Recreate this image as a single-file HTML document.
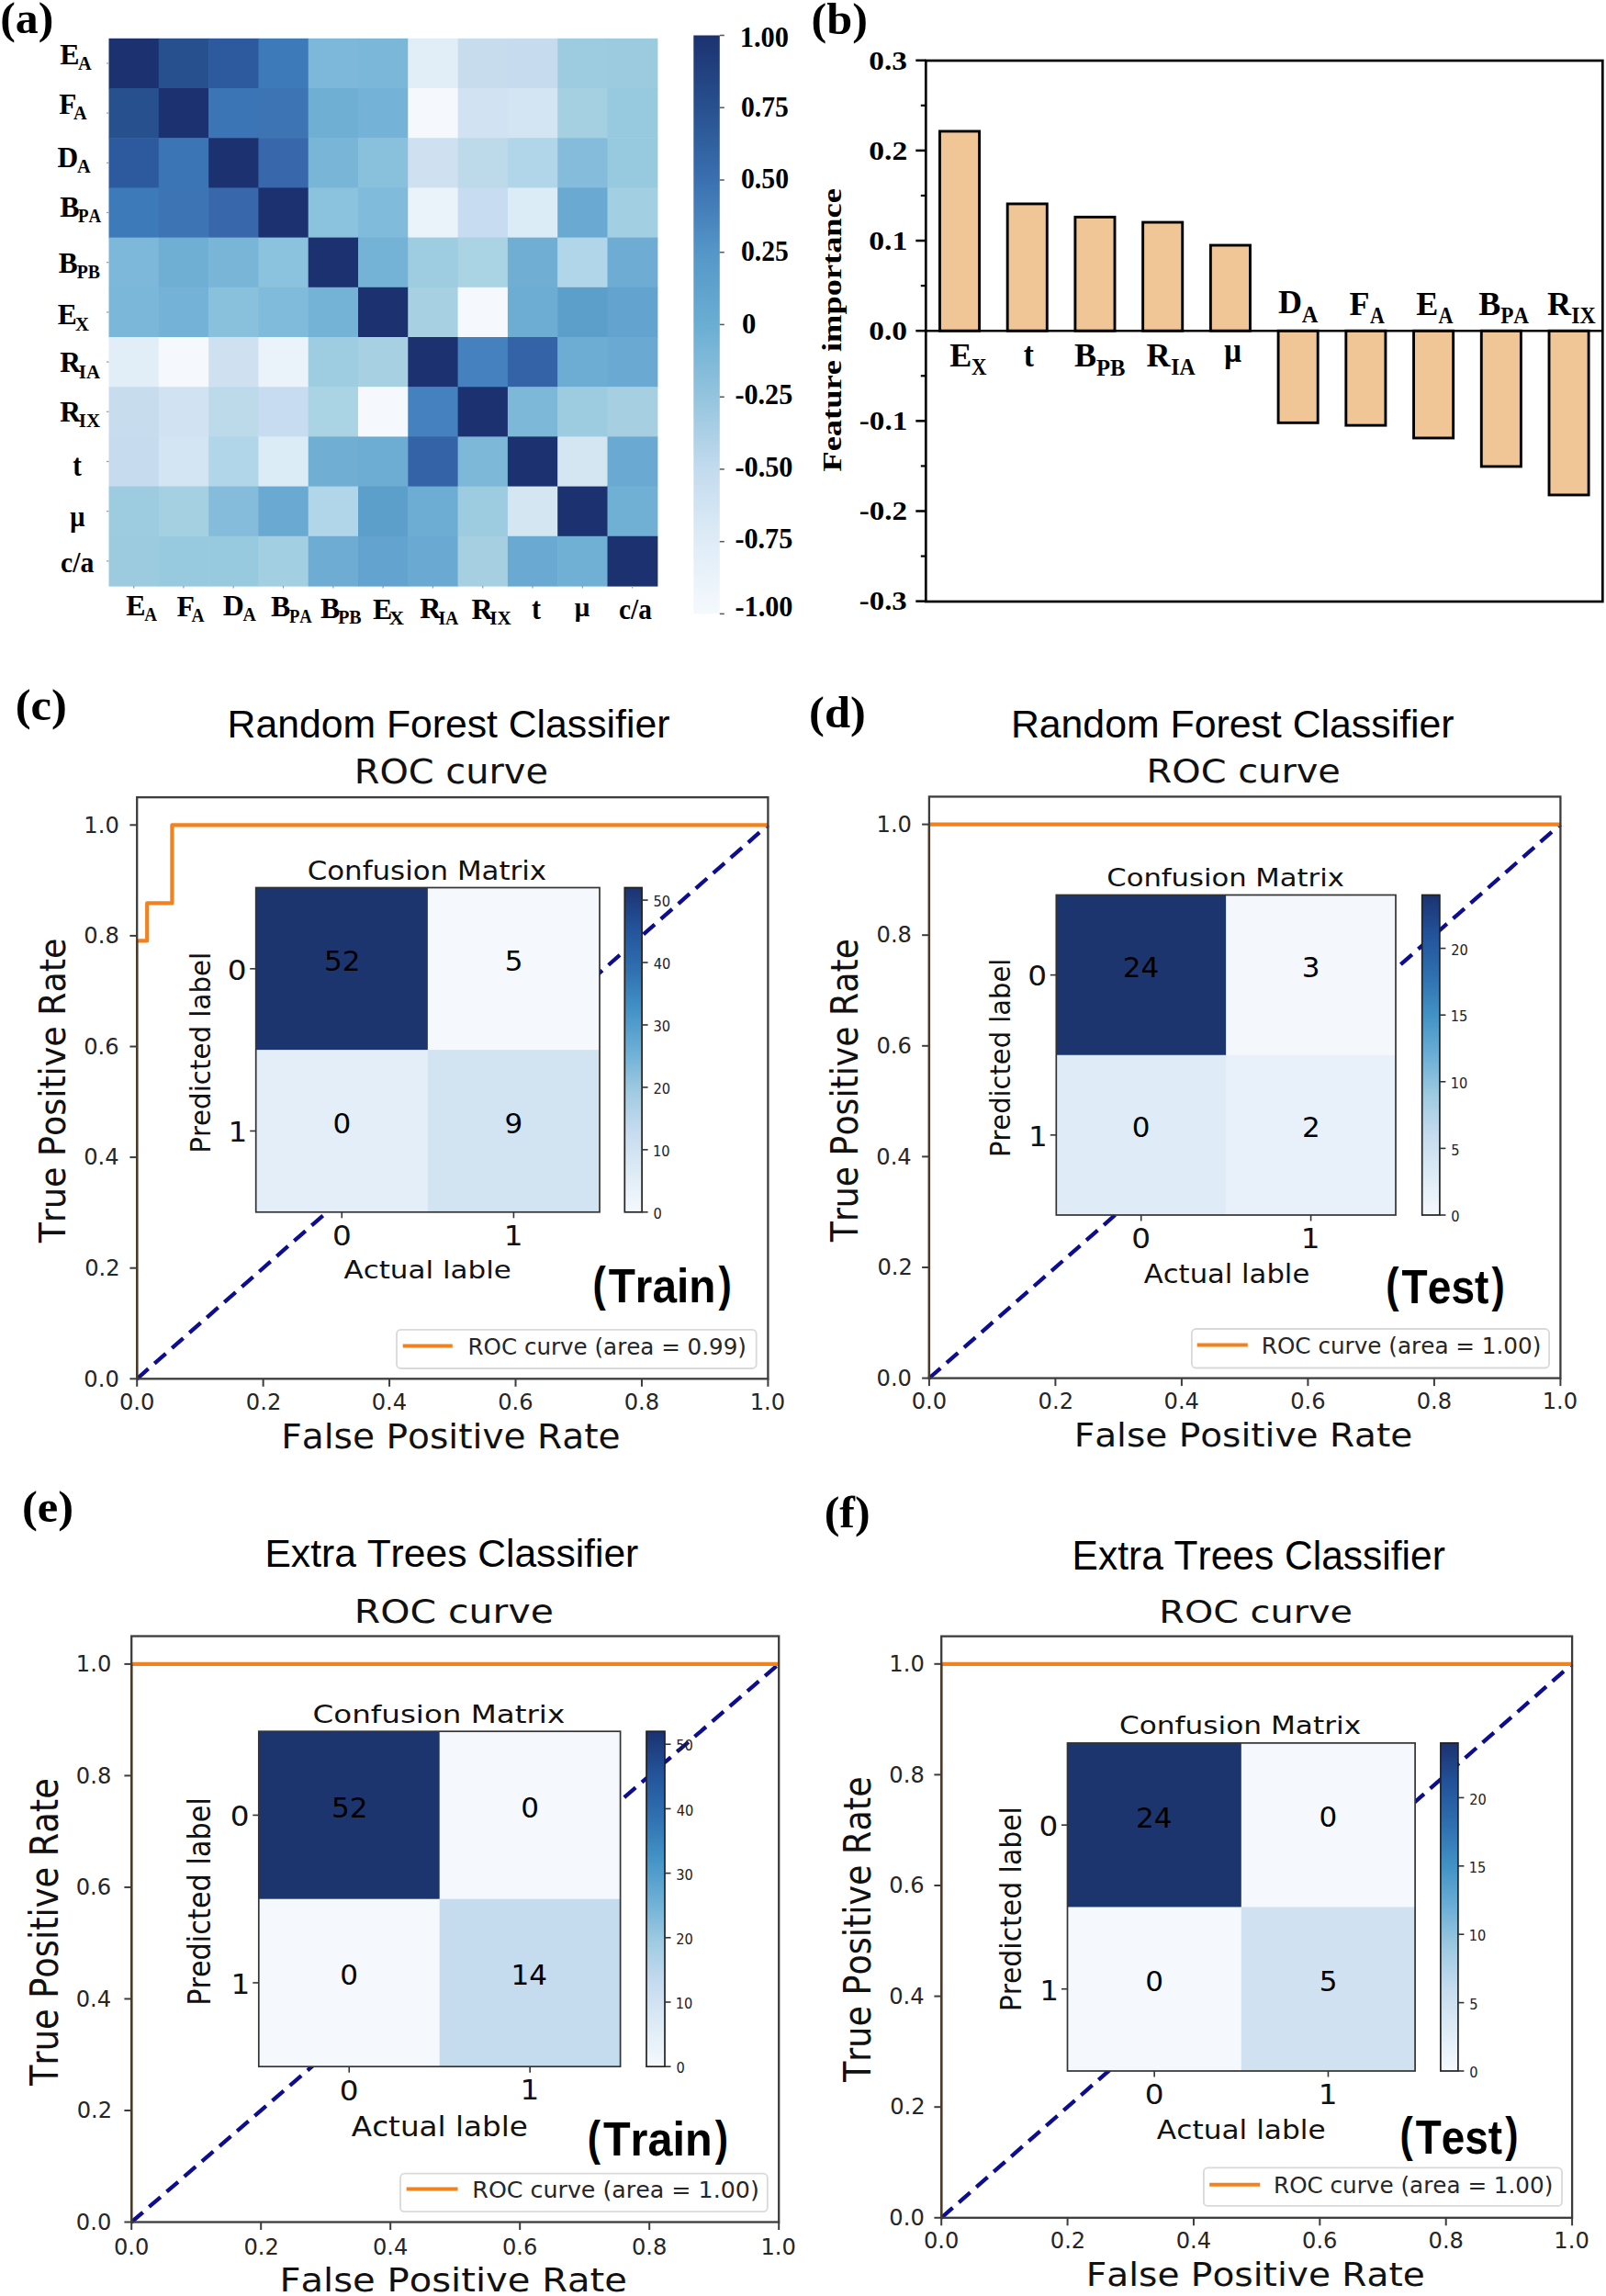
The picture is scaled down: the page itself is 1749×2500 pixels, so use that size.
<!DOCTYPE html>
<html><head><meta charset="utf-8"><title>Figure</title>
<style>html,body{margin:0;padding:0;background:#fff;} svg{display:block;} text{font-kerning:none;}</style>
</head><body>
<svg width="1749" height="2500" viewBox="0 0 1749 2500">
<rect width="1749" height="2500" fill="#fff"/>
<rect x="118.50" y="41.80" width="54.90" height="54.80" fill="#1c3270"/><rect x="172.80" y="41.80" width="54.90" height="54.80" fill="#27508e"/><rect x="227.10" y="41.80" width="54.90" height="54.80" fill="#2d5a9e"/><rect x="281.40" y="41.80" width="54.90" height="54.80" fill="#3d7aba"/><rect x="335.70" y="41.80" width="54.90" height="54.80" fill="#7db7d9"/><rect x="390.00" y="41.80" width="54.90" height="54.80" fill="#7bb7d9"/><rect x="444.30" y="41.80" width="54.90" height="54.80" fill="#e1eef8"/><rect x="498.60" y="41.80" width="54.90" height="54.80" fill="#c7ddee"/><rect x="552.90" y="41.80" width="54.90" height="54.80" fill="#c6dcee"/><rect x="607.20" y="41.80" width="54.90" height="54.80" fill="#9dcbe0"/><rect x="661.50" y="41.80" width="54.90" height="54.80" fill="#9ccbe0"/><rect x="118.50" y="96.00" width="54.90" height="54.80" fill="#27508e"/><rect x="172.80" y="96.00" width="54.90" height="54.80" fill="#1c3270"/><rect x="227.10" y="96.00" width="54.90" height="54.80" fill="#3c75b5"/><rect x="281.40" y="96.00" width="54.90" height="54.80" fill="#3c74b4"/><rect x="335.70" y="96.00" width="54.90" height="54.80" fill="#70afd4"/><rect x="390.00" y="96.00" width="54.90" height="54.80" fill="#74b3d7"/><rect x="444.30" y="96.00" width="54.90" height="54.80" fill="#f5f9fd"/><rect x="498.60" y="96.00" width="54.90" height="54.80" fill="#d1e3f2"/><rect x="552.90" y="96.00" width="54.90" height="54.80" fill="#d3e4f2"/><rect x="607.20" y="96.00" width="54.90" height="54.80" fill="#a5d0e2"/><rect x="661.50" y="96.00" width="54.90" height="54.80" fill="#98cadf"/><rect x="118.50" y="150.20" width="54.90" height="54.80" fill="#2d5a9e"/><rect x="172.80" y="150.20" width="54.90" height="54.80" fill="#3c75b5"/><rect x="227.10" y="150.20" width="54.90" height="54.80" fill="#1c3270"/><rect x="281.40" y="150.20" width="54.90" height="54.80" fill="#3868ab"/><rect x="335.70" y="150.20" width="54.90" height="54.80" fill="#78b5d7"/><rect x="390.00" y="150.20" width="54.90" height="54.80" fill="#89c0dc"/><rect x="444.30" y="150.20" width="54.90" height="54.80" fill="#cfe1f1"/><rect x="498.60" y="150.20" width="54.90" height="54.80" fill="#bddaeb"/><rect x="552.90" y="150.20" width="54.90" height="54.80" fill="#b1d5e9"/><rect x="607.20" y="150.20" width="54.90" height="54.80" fill="#85bcdc"/><rect x="661.50" y="150.20" width="54.90" height="54.80" fill="#98cadf"/><rect x="118.50" y="204.40" width="54.90" height="54.80" fill="#3d7aba"/><rect x="172.80" y="204.40" width="54.90" height="54.80" fill="#3c74b4"/><rect x="227.10" y="204.40" width="54.90" height="54.80" fill="#3868ab"/><rect x="281.40" y="204.40" width="54.90" height="54.80" fill="#1c3270"/><rect x="335.70" y="204.40" width="54.90" height="54.80" fill="#8bc2dd"/><rect x="390.00" y="204.40" width="54.90" height="54.80" fill="#81bbdb"/><rect x="444.30" y="204.40" width="54.90" height="54.80" fill="#eaf2fa"/><rect x="498.60" y="204.40" width="54.90" height="54.80" fill="#c7dcf0"/><rect x="552.90" y="204.40" width="54.90" height="54.80" fill="#dcecf6"/><rect x="607.20" y="204.40" width="54.90" height="54.80" fill="#6aaad2"/><rect x="661.50" y="204.40" width="54.90" height="54.80" fill="#a3cfe2"/><rect x="118.50" y="258.60" width="54.90" height="54.80" fill="#7db7d9"/><rect x="172.80" y="258.60" width="54.90" height="54.80" fill="#70afd4"/><rect x="227.10" y="258.60" width="54.90" height="54.80" fill="#78b5d7"/><rect x="281.40" y="258.60" width="54.90" height="54.80" fill="#8bc2dd"/><rect x="335.70" y="258.60" width="54.90" height="54.80" fill="#1c3270"/><rect x="390.00" y="258.60" width="54.90" height="54.80" fill="#74b2d6"/><rect x="444.30" y="258.60" width="54.90" height="54.80" fill="#9ecce0"/><rect x="498.60" y="258.60" width="54.90" height="54.80" fill="#aad3e4"/><rect x="552.90" y="258.60" width="54.90" height="54.80" fill="#70aed3"/><rect x="607.20" y="258.60" width="54.90" height="54.80" fill="#b2d6e9"/><rect x="661.50" y="258.60" width="54.90" height="54.80" fill="#6eacd3"/><rect x="118.50" y="312.80" width="54.90" height="54.80" fill="#7bb7d9"/><rect x="172.80" y="312.80" width="54.90" height="54.80" fill="#74b3d7"/><rect x="227.10" y="312.80" width="54.90" height="54.80" fill="#89c0dc"/><rect x="281.40" y="312.80" width="54.90" height="54.80" fill="#81bbdb"/><rect x="335.70" y="312.80" width="54.90" height="54.80" fill="#74b2d6"/><rect x="390.00" y="312.80" width="54.90" height="54.80" fill="#1c3270"/><rect x="444.30" y="312.80" width="54.90" height="54.80" fill="#a7d0e2"/><rect x="498.60" y="312.80" width="54.90" height="54.80" fill="#f5f9fd"/><rect x="552.90" y="312.80" width="54.90" height="54.80" fill="#6eadd3"/><rect x="607.20" y="312.80" width="54.90" height="54.80" fill="#5d9fcb"/><rect x="661.50" y="312.80" width="54.90" height="54.80" fill="#62a3cf"/><rect x="118.50" y="367.00" width="54.90" height="54.80" fill="#e1eef8"/><rect x="172.80" y="367.00" width="54.90" height="54.80" fill="#f5f9fd"/><rect x="227.10" y="367.00" width="54.90" height="54.80" fill="#cfe1f1"/><rect x="281.40" y="367.00" width="54.90" height="54.80" fill="#eaf2fa"/><rect x="335.70" y="367.00" width="54.90" height="54.80" fill="#9ecce0"/><rect x="390.00" y="367.00" width="54.90" height="54.80" fill="#a7d0e2"/><rect x="444.30" y="367.00" width="54.90" height="54.80" fill="#1c3270"/><rect x="498.60" y="367.00" width="54.90" height="54.80" fill="#4580bf"/><rect x="552.90" y="367.00" width="54.90" height="54.80" fill="#3563a8"/><rect x="607.20" y="367.00" width="54.90" height="54.80" fill="#6eadd3"/><rect x="661.50" y="367.00" width="54.90" height="54.80" fill="#6aaad2"/><rect x="118.50" y="421.20" width="54.90" height="54.80" fill="#c7ddee"/><rect x="172.80" y="421.20" width="54.90" height="54.80" fill="#d1e3f2"/><rect x="227.10" y="421.20" width="54.90" height="54.80" fill="#bddaeb"/><rect x="281.40" y="421.20" width="54.90" height="54.80" fill="#c7dcf0"/><rect x="335.70" y="421.20" width="54.90" height="54.80" fill="#aad3e4"/><rect x="390.00" y="421.20" width="54.90" height="54.80" fill="#f5f9fd"/><rect x="444.30" y="421.20" width="54.90" height="54.80" fill="#4580bf"/><rect x="498.60" y="421.20" width="54.90" height="54.80" fill="#1c3270"/><rect x="552.90" y="421.20" width="54.90" height="54.80" fill="#7db8d9"/><rect x="607.20" y="421.20" width="54.90" height="54.80" fill="#9dcbe0"/><rect x="661.50" y="421.20" width="54.90" height="54.80" fill="#a6d0e2"/><rect x="118.50" y="475.40" width="54.90" height="54.80" fill="#c6dcee"/><rect x="172.80" y="475.40" width="54.90" height="54.80" fill="#d3e4f2"/><rect x="227.10" y="475.40" width="54.90" height="54.80" fill="#b1d5e9"/><rect x="281.40" y="475.40" width="54.90" height="54.80" fill="#dcecf6"/><rect x="335.70" y="475.40" width="54.90" height="54.80" fill="#70aed3"/><rect x="390.00" y="475.40" width="54.90" height="54.80" fill="#6eadd3"/><rect x="444.30" y="475.40" width="54.90" height="54.80" fill="#3563a8"/><rect x="498.60" y="475.40" width="54.90" height="54.80" fill="#7db8d9"/><rect x="552.90" y="475.40" width="54.90" height="54.80" fill="#1c3270"/><rect x="607.20" y="475.40" width="54.90" height="54.80" fill="#d5e6f3"/><rect x="661.50" y="475.40" width="54.90" height="54.80" fill="#6aaad2"/><rect x="118.50" y="529.60" width="54.90" height="54.80" fill="#9dcbe0"/><rect x="172.80" y="529.60" width="54.90" height="54.80" fill="#a5d0e2"/><rect x="227.10" y="529.60" width="54.90" height="54.80" fill="#85bcdc"/><rect x="281.40" y="529.60" width="54.90" height="54.80" fill="#6aaad2"/><rect x="335.70" y="529.60" width="54.90" height="54.80" fill="#b2d6e9"/><rect x="390.00" y="529.60" width="54.90" height="54.80" fill="#5d9fcb"/><rect x="444.30" y="529.60" width="54.90" height="54.80" fill="#6eadd3"/><rect x="498.60" y="529.60" width="54.90" height="54.80" fill="#9dcbe0"/><rect x="552.90" y="529.60" width="54.90" height="54.80" fill="#d5e6f3"/><rect x="607.20" y="529.60" width="54.90" height="54.80" fill="#1c3270"/><rect x="661.50" y="529.60" width="54.90" height="54.80" fill="#70b0d5"/><rect x="118.50" y="583.80" width="54.90" height="54.80" fill="#9ccbe0"/><rect x="172.80" y="583.80" width="54.90" height="54.80" fill="#98cadf"/><rect x="227.10" y="583.80" width="54.90" height="54.80" fill="#98cadf"/><rect x="281.40" y="583.80" width="54.90" height="54.80" fill="#a3cfe2"/><rect x="335.70" y="583.80" width="54.90" height="54.80" fill="#6eacd3"/><rect x="390.00" y="583.80" width="54.90" height="54.80" fill="#62a3cf"/><rect x="444.30" y="583.80" width="54.90" height="54.80" fill="#6aaad2"/><rect x="498.60" y="583.80" width="54.90" height="54.80" fill="#a6d0e2"/><rect x="552.90" y="583.80" width="54.90" height="54.80" fill="#6aaad2"/><rect x="607.20" y="583.80" width="54.90" height="54.80" fill="#70b0d5"/><rect x="661.50" y="583.80" width="54.90" height="54.80" fill="#1c3270"/><line x1="116" y1="68.9" x2="118.5" y2="68.9" stroke="#999" stroke-width="1.2"/><line x1="145.7" y1="638.0" x2="145.7" y2="640.5" stroke="#999" stroke-width="1.2"/><line x1="116" y1="123.1" x2="118.5" y2="123.1" stroke="#999" stroke-width="1.2"/><line x1="199.9" y1="638.0" x2="199.9" y2="640.5" stroke="#999" stroke-width="1.2"/><line x1="116" y1="177.3" x2="118.5" y2="177.3" stroke="#999" stroke-width="1.2"/><line x1="254.2" y1="638.0" x2="254.2" y2="640.5" stroke="#999" stroke-width="1.2"/><line x1="116" y1="231.5" x2="118.5" y2="231.5" stroke="#999" stroke-width="1.2"/><line x1="308.5" y1="638.0" x2="308.5" y2="640.5" stroke="#999" stroke-width="1.2"/><line x1="116" y1="285.7" x2="118.5" y2="285.7" stroke="#999" stroke-width="1.2"/><line x1="362.9" y1="638.0" x2="362.9" y2="640.5" stroke="#999" stroke-width="1.2"/><line x1="116" y1="339.9" x2="118.5" y2="339.9" stroke="#999" stroke-width="1.2"/><line x1="417.1" y1="638.0" x2="417.1" y2="640.5" stroke="#999" stroke-width="1.2"/><line x1="116" y1="394.1" x2="118.5" y2="394.1" stroke="#999" stroke-width="1.2"/><line x1="471.4" y1="638.0" x2="471.4" y2="640.5" stroke="#999" stroke-width="1.2"/><line x1="116" y1="448.3" x2="118.5" y2="448.3" stroke="#999" stroke-width="1.2"/><line x1="525.8" y1="638.0" x2="525.8" y2="640.5" stroke="#999" stroke-width="1.2"/><line x1="116" y1="502.5" x2="118.5" y2="502.5" stroke="#999" stroke-width="1.2"/><line x1="580.0" y1="638.0" x2="580.0" y2="640.5" stroke="#999" stroke-width="1.2"/><line x1="116" y1="556.7" x2="118.5" y2="556.7" stroke="#999" stroke-width="1.2"/><line x1="634.4" y1="638.0" x2="634.4" y2="640.5" stroke="#999" stroke-width="1.2"/><line x1="116" y1="610.9" x2="118.5" y2="610.9" stroke="#999" stroke-width="1.2"/><line x1="688.6" y1="638.0" x2="688.6" y2="640.5" stroke="#999" stroke-width="1.2"/><defs><linearGradient id="cbA" x1="0" y1="0" x2="0" y2="1"><stop offset="0" stop-color="#1c3270"/><stop offset="0.125" stop-color="#28508f"/><stop offset="0.25" stop-color="#3a70b0"/><stop offset="0.375" stop-color="#5596c8"/><stop offset="0.5" stop-color="#6aaed3"/><stop offset="0.625" stop-color="#94c4de"/><stop offset="0.75" stop-color="#c3dbee"/><stop offset="0.875" stop-color="#dfecf7"/><stop offset="1" stop-color="#f5f9fd"/></linearGradient><linearGradient id="cbBlues" x1="0" y1="1" x2="0" y2="0"><stop offset="0.000" stop-color="#f5f9fd"/><stop offset="0.125" stop-color="#ddebf6"/><stop offset="0.250" stop-color="#c6dbef"/><stop offset="0.375" stop-color="#9ecae1"/><stop offset="0.500" stop-color="#6baed6"/><stop offset="0.625" stop-color="#4292c6"/><stop offset="0.750" stop-color="#2f6fb0"/><stop offset="0.875" stop-color="#23539a"/><stop offset="1.000" stop-color="#1c3270"/></linearGradient></defs><rect x="755.3" y="38.5" width="28.5" height="629.9" fill="url(#cbA)"/><line x1="783.8" y1="38.5" x2="788.8" y2="38.5" stroke="#555" stroke-width="1.5"/><text x="805.77" y="51.29" font-family='"Liberation Serif", serif' font-weight="bold" font-size="30.59" textLength="53.25" lengthAdjust="spacingAndGlyphs" fill="#000">1.00</text><line x1="783.8" y1="117.2" x2="788.8" y2="117.2" stroke="#555" stroke-width="1.5"/><text x="807.02" y="126.69" font-family='"Liberation Serif", serif' font-weight="bold" font-size="30.59" textLength="51.82" lengthAdjust="spacingAndGlyphs" fill="#000">0.75</text><line x1="783.8" y1="196.0" x2="788.8" y2="196.0" stroke="#555" stroke-width="1.5"/><text x="807.01" y="205.24" font-family='"Liberation Serif", serif' font-weight="bold" font-size="30.59" textLength="51.98" lengthAdjust="spacingAndGlyphs" fill="#000">0.50</text><line x1="783.8" y1="274.7" x2="788.8" y2="274.7" stroke="#555" stroke-width="1.5"/><text x="807.02" y="283.84" font-family='"Liberation Serif", serif' font-weight="bold" font-size="30.59" textLength="51.82" lengthAdjust="spacingAndGlyphs" fill="#000">0.25</text><line x1="783.8" y1="353.4" x2="788.8" y2="353.4" stroke="#555" stroke-width="1.5"/><text x="807.97" y="362.54" font-family='"Liberation Serif", serif' font-weight="bold" font-size="30.81" textLength="15.36" lengthAdjust="spacingAndGlyphs" fill="#000">0</text><line x1="783.8" y1="432.2" x2="788.8" y2="432.2" stroke="#555" stroke-width="1.5"/><text x="800.44" y="440.34" font-family='"Liberation Serif", serif' font-weight="bold" font-size="30.59" textLength="62.85" lengthAdjust="spacingAndGlyphs" fill="#000">-0.25</text><line x1="783.8" y1="510.9" x2="788.8" y2="510.9" stroke="#555" stroke-width="1.5"/><text x="800.44" y="518.94" font-family='"Liberation Serif", serif' font-weight="bold" font-size="30.59" textLength="63.01" lengthAdjust="spacingAndGlyphs" fill="#000">-0.50</text><line x1="783.8" y1="589.7" x2="788.8" y2="589.7" stroke="#555" stroke-width="1.5"/><text x="800.44" y="596.74" font-family='"Liberation Serif", serif' font-weight="bold" font-size="30.59" textLength="62.85" lengthAdjust="spacingAndGlyphs" fill="#000">-0.75</text><line x1="783.8" y1="668.4" x2="788.8" y2="668.4" stroke="#555" stroke-width="1.5"/><text x="800.44" y="671.49" font-family='"Liberation Serif", serif' font-weight="bold" font-size="30.59" textLength="63.01" lengthAdjust="spacingAndGlyphs" fill="#000">-1.00</text><text x="0.25" y="35.73" font-family='"Liberation Serif", serif' font-weight="bold" font-size="48.24" textLength="58.20" lengthAdjust="spacingAndGlyphs" fill="#000">(a)</text><text x="65.22" y="69.60" font-family='"Liberation Serif", serif' font-weight="bold" font-size="31.91" textLength="21.28" lengthAdjust="spacingAndGlyphs" fill="#000">E</text><text x="85.00" y="75.90" font-family='"Liberation Serif", serif' font-weight="bold" font-size="20.00" textLength="14.65" lengthAdjust="spacingAndGlyphs" fill="#000">A</text><text x="64.13" y="123.60" font-family='"Liberation Serif", serif' font-weight="bold" font-size="31.30" textLength="19.12" lengthAdjust="spacingAndGlyphs" fill="#000">F</text><text x="80.10" y="130.20" font-family='"Liberation Serif", serif' font-weight="bold" font-size="20.00" textLength="14.65" lengthAdjust="spacingAndGlyphs" fill="#000">A</text><text x="62.57" y="181.50" font-family='"Liberation Serif", serif' font-weight="bold" font-size="31.45" textLength="22.71" lengthAdjust="spacingAndGlyphs" fill="#000">D</text><text x="83.90" y="187.70" font-family='"Liberation Serif", serif' font-weight="bold" font-size="20.00" textLength="14.65" lengthAdjust="spacingAndGlyphs" fill="#000">A</text><text x="65.22" y="235.90" font-family='"Liberation Serif", serif' font-weight="bold" font-size="31.91" textLength="21.28" lengthAdjust="spacingAndGlyphs" fill="#000">B</text><text x="84.90" y="242.20" font-family='"Liberation Serif", serif' font-weight="bold" font-size="20.00" textLength="25.18" lengthAdjust="spacingAndGlyphs" fill="#000">PA</text><text x="63.83" y="296.50" font-family='"Liberation Serif", serif' font-weight="bold" font-size="31.30" textLength="20.88" lengthAdjust="spacingAndGlyphs" fill="#000">B</text><text x="83.80" y="303.00" font-family='"Liberation Serif", serif' font-weight="bold" font-size="20.00" textLength="25.25" lengthAdjust="spacingAndGlyphs" fill="#000">PB</text><text x="62.73" y="353.00" font-family='"Liberation Serif", serif' font-weight="bold" font-size="31.45" textLength="20.98" lengthAdjust="spacingAndGlyphs" fill="#000">E</text><text x="81.99" y="359.60" font-family='"Liberation Serif", serif' font-weight="bold" font-size="20.00" textLength="14.97" lengthAdjust="spacingAndGlyphs" fill="#000">X</text><text x="65.23" y="405.30" font-family='"Liberation Serif", serif' font-weight="bold" font-size="31.45" textLength="22.71" lengthAdjust="spacingAndGlyphs" fill="#000">R</text><text x="85.87" y="411.60" font-family='"Liberation Serif", serif' font-weight="bold" font-size="20.00" textLength="23.16" lengthAdjust="spacingAndGlyphs" fill="#000">IA</text><text x="65.23" y="458.60" font-family='"Liberation Serif", serif' font-weight="bold" font-size="31.45" textLength="22.71" lengthAdjust="spacingAndGlyphs" fill="#000">R</text><text x="85.87" y="464.50" font-family='"Liberation Serif", serif' font-weight="bold" font-size="20.00" textLength="23.27" lengthAdjust="spacingAndGlyphs" fill="#000">IX</text><text x="79.17" y="517.96" font-family='"Liberation Serif", serif' font-weight="bold" font-size="33.91" textLength="9.62" lengthAdjust="spacingAndGlyphs" fill="#000">t</text><text x="76.37" y="573.01" font-family='"Liberation Serif", serif' font-weight="bold" font-size="31.11" textLength="16.17" lengthAdjust="spacingAndGlyphs" fill="#000">μ</text><text x="66.06" y="622.59" font-family='"Liberation Serif", serif' font-weight="bold" font-size="31.19" textLength="36.34" lengthAdjust="spacingAndGlyphs" fill="#000">c/a</text><text x="137.22" y="669.90" font-family='"Liberation Serif", serif' font-weight="bold" font-size="31.91" textLength="21.28" lengthAdjust="spacingAndGlyphs" fill="#000">E</text><text x="157.21" y="675.90" font-family='"Liberation Serif", serif' font-weight="bold" font-size="20.00" textLength="13.73" lengthAdjust="spacingAndGlyphs" fill="#000">A</text><text x="192.42" y="670.60" font-family='"Liberation Serif", serif' font-weight="bold" font-size="31.91" textLength="19.49" lengthAdjust="spacingAndGlyphs" fill="#000">F</text><text x="208.51" y="676.60" font-family='"Liberation Serif", serif' font-weight="bold" font-size="20.00" textLength="14.03" lengthAdjust="spacingAndGlyphs" fill="#000">A</text><text x="242.66" y="669.50" font-family='"Liberation Serif", serif' font-weight="bold" font-size="31.91" textLength="23.04" lengthAdjust="spacingAndGlyphs" fill="#000">D</text><text x="264.60" y="675.50" font-family='"Liberation Serif", serif' font-weight="bold" font-size="20.00" textLength="14.34" lengthAdjust="spacingAndGlyphs" fill="#000">A</text><text x="295.12" y="671.40" font-family='"Liberation Serif", serif' font-weight="bold" font-size="31.91" textLength="21.28" lengthAdjust="spacingAndGlyphs" fill="#000">B</text><text x="314.90" y="678.30" font-family='"Liberation Serif", serif' font-weight="bold" font-size="20.00" textLength="24.77" lengthAdjust="spacingAndGlyphs" fill="#000">PA</text><text x="348.92" y="672.70" font-family='"Liberation Serif", serif' font-weight="bold" font-size="31.91" textLength="21.28" lengthAdjust="spacingAndGlyphs" fill="#000">B</text><text x="368.20" y="679.10" font-family='"Liberation Serif", serif' font-weight="bold" font-size="20.00" textLength="25.45" lengthAdjust="spacingAndGlyphs" fill="#000">PB</text><text x="405.92" y="673.50" font-family='"Liberation Serif", serif' font-weight="bold" font-size="31.91" textLength="21.28" lengthAdjust="spacingAndGlyphs" fill="#000">E</text><text x="423.85" y="679.80" font-family='"Liberation Serif", serif' font-weight="bold" font-size="20.00" textLength="16.22" lengthAdjust="spacingAndGlyphs" fill="#000">X</text><text x="457.32" y="672.90" font-family='"Liberation Serif", serif' font-weight="bold" font-size="31.91" textLength="23.04" lengthAdjust="spacingAndGlyphs" fill="#000">R</text><text x="477.41" y="679.80" font-family='"Liberation Serif", serif' font-weight="bold" font-size="20.00" textLength="21.91" lengthAdjust="spacingAndGlyphs" fill="#000">IA</text><text x="513.52" y="673.50" font-family='"Liberation Serif", serif' font-weight="bold" font-size="31.91" textLength="23.04" lengthAdjust="spacingAndGlyphs" fill="#000">R</text><text x="533.16" y="679.80" font-family='"Liberation Serif", serif' font-weight="bold" font-size="20.00" textLength="23.48" lengthAdjust="spacingAndGlyphs" fill="#000">IX</text><text x="578.95" y="673.57" font-family='"Liberation Serif", serif' font-weight="bold" font-size="33.04" textLength="10.04" lengthAdjust="spacingAndGlyphs" fill="#000">t</text><text x="625.76" y="671.17" font-family='"Liberation Serif", serif' font-weight="bold" font-size="29.93" textLength="16.48" lengthAdjust="spacingAndGlyphs" fill="#000">μ</text><text x="673.97" y="673.59" font-family='"Liberation Serif", serif' font-weight="bold" font-size="30.60" textLength="35.92" lengthAdjust="spacingAndGlyphs" fill="#000">c/a</text><text x="883.64" y="36.70" font-family='"Liberation Serif", serif' font-weight="bold" font-size="47.91" textLength="61.38" lengthAdjust="spacingAndGlyphs" fill="#000">(b)</text><rect x="1023.45" y="142.95" width="43.10" height="217.25" fill="#f0c696" stroke="#000" stroke-width="2.9"/><rect x="1097.18" y="221.95" width="43.10" height="138.25" fill="#f0c696" stroke="#000" stroke-width="2.9"/><rect x="1170.91" y="236.35" width="43.10" height="123.85" fill="#f0c696" stroke="#000" stroke-width="2.9"/><rect x="1244.64" y="242.05" width="43.10" height="118.15" fill="#f0c696" stroke="#000" stroke-width="2.9"/><rect x="1318.37" y="267.05" width="43.10" height="93.15" fill="#f0c696" stroke="#000" stroke-width="2.9"/><rect x="1392.10" y="360.20" width="43.10" height="100.15" fill="#f0c696" stroke="#000" stroke-width="2.9"/><rect x="1465.83" y="360.20" width="43.10" height="102.95" fill="#f0c696" stroke="#000" stroke-width="2.9"/><rect x="1539.56" y="360.20" width="43.10" height="116.75" fill="#f0c696" stroke="#000" stroke-width="2.9"/><rect x="1613.29" y="360.20" width="43.10" height="147.75" fill="#f0c696" stroke="#000" stroke-width="2.9"/><rect x="1687.02" y="360.20" width="43.10" height="178.75" fill="#f0c696" stroke="#000" stroke-width="2.9"/><rect x="1008.3" y="66.0" width="737.0" height="589.0" fill="none" stroke="#000" stroke-width="2.7"/><line x1="1008.3" y1="360.2" x2="1745.3" y2="360.2" stroke="#000" stroke-width="2.6"/><line x1="997.3" y1="654.65" x2="1008.3" y2="654.65" stroke="#000" stroke-width="2.5"/><line x1="997.3" y1="556.50" x2="1008.3" y2="556.50" stroke="#000" stroke-width="2.5"/><line x1="997.3" y1="458.35" x2="1008.3" y2="458.35" stroke="#000" stroke-width="2.5"/><line x1="997.3" y1="360.20" x2="1008.3" y2="360.20" stroke="#000" stroke-width="2.5"/><line x1="997.3" y1="262.05" x2="1008.3" y2="262.05" stroke="#000" stroke-width="2.5"/><line x1="997.3" y1="163.90" x2="1008.3" y2="163.90" stroke="#000" stroke-width="2.5"/><line x1="997.3" y1="65.75" x2="1008.3" y2="65.75" stroke="#000" stroke-width="2.5"/><line x1="1002.8" y1="605.58" x2="1008.3" y2="605.58" stroke="#000" stroke-width="2.2"/><line x1="1002.8" y1="507.43" x2="1008.3" y2="507.43" stroke="#000" stroke-width="2.2"/><line x1="1002.8" y1="409.27" x2="1008.3" y2="409.27" stroke="#000" stroke-width="2.2"/><line x1="1002.8" y1="311.12" x2="1008.3" y2="311.12" stroke="#000" stroke-width="2.2"/><line x1="1002.8" y1="212.97" x2="1008.3" y2="212.97" stroke="#000" stroke-width="2.2"/><line x1="1002.8" y1="114.82" x2="1008.3" y2="114.82" stroke="#000" stroke-width="2.2"/><text x="935.85" y="664.40" font-family='"Liberation Serif", serif' font-weight="bold" font-size="30.29" textLength="51.93" lengthAdjust="spacingAndGlyphs" fill="#000">-0.3</text><text x="935.84" y="566.25" font-family='"Liberation Serif", serif' font-weight="bold" font-size="30.29" textLength="52.28" lengthAdjust="spacingAndGlyphs" fill="#000">-0.2</text><text x="935.84" y="468.10" font-family='"Liberation Serif", serif' font-weight="bold" font-size="30.29" textLength="52.45" lengthAdjust="spacingAndGlyphs" fill="#000">-0.1</text><text x="946.26" y="369.95" font-family='"Liberation Serif", serif' font-weight="bold" font-size="30.29" textLength="41.77" lengthAdjust="spacingAndGlyphs" fill="#000">0.0</text><text x="946.25" y="271.80" font-family='"Liberation Serif", serif' font-weight="bold" font-size="30.29" textLength="42.13" lengthAdjust="spacingAndGlyphs" fill="#000">0.1</text><text x="946.26" y="173.65" font-family='"Liberation Serif", serif' font-weight="bold" font-size="30.29" textLength="41.95" lengthAdjust="spacingAndGlyphs" fill="#000">0.2</text><text x="946.27" y="75.50" font-family='"Liberation Serif", serif' font-weight="bold" font-size="30.29" textLength="41.60" lengthAdjust="spacingAndGlyphs" fill="#000">0.3</text><g transform="rotate(-90)"><text x="-513.55" y="916.31" font-family='"Liberation Serif", serif' font-weight="bold" font-size="28.79" textLength="308.51" lengthAdjust="spacingAndGlyphs" fill="#000">Feature importance</text></g><text x="1034.36" y="399.00" font-family='"Liberation Serif", serif' font-weight="bold" font-size="36.04" textLength="24.04" lengthAdjust="spacingAndGlyphs" fill="#000">E</text><text x="1058.04" y="408.00" font-family='"Liberation Serif", serif' font-weight="bold" font-size="24.89" textLength="16.43" lengthAdjust="spacingAndGlyphs" fill="#000">X</text><text x="1170.06" y="399.30" font-family='"Liberation Serif", serif' font-weight="bold" font-size="36.04" textLength="24.04" lengthAdjust="spacingAndGlyphs" fill="#000">B</text><text x="1193.93" y="409.08" font-family='"Liberation Serif", serif' font-weight="bold" font-size="24.89" textLength="31.46" lengthAdjust="spacingAndGlyphs" fill="#000">PB</text><text x="1248.46" y="399.30" font-family='"Liberation Serif", serif' font-weight="bold" font-size="36.04" textLength="26.03" lengthAdjust="spacingAndGlyphs" fill="#000">R</text><text x="1275.17" y="408.00" font-family='"Liberation Serif", serif' font-weight="bold" font-size="24.89" textLength="26.38" lengthAdjust="spacingAndGlyphs" fill="#000">IA</text><text x="1391.88" y="341.40" font-family='"Liberation Serif", serif' font-weight="bold" font-size="36.04" textLength="26.03" lengthAdjust="spacingAndGlyphs" fill="#000">D</text><text x="1417.66" y="351.00" font-family='"Liberation Serif", serif' font-weight="bold" font-size="24.89" textLength="17.62" lengthAdjust="spacingAndGlyphs" fill="#000">A</text><text x="1469.46" y="342.50" font-family='"Liberation Serif", serif' font-weight="bold" font-size="36.04" textLength="22.02" lengthAdjust="spacingAndGlyphs" fill="#000">F</text><text x="1491.88" y="352.40" font-family='"Liberation Serif", serif' font-weight="bold" font-size="24.89" textLength="15.78" lengthAdjust="spacingAndGlyphs" fill="#000">A</text><text x="1542.16" y="342.50" font-family='"Liberation Serif", serif' font-weight="bold" font-size="36.04" textLength="24.04" lengthAdjust="spacingAndGlyphs" fill="#000">E</text><text x="1566.38" y="352.40" font-family='"Liberation Serif", serif' font-weight="bold" font-size="24.89" textLength="15.98" lengthAdjust="spacingAndGlyphs" fill="#000">A</text><text x="1610.36" y="342.50" font-family='"Liberation Serif", serif' font-weight="bold" font-size="36.04" textLength="24.04" lengthAdjust="spacingAndGlyphs" fill="#000">B</text><text x="1634.23" y="352.40" font-family='"Liberation Serif", serif' font-weight="bold" font-size="24.89" textLength="30.88" lengthAdjust="spacingAndGlyphs" fill="#000">PA</text><text x="1685.06" y="342.50" font-family='"Liberation Serif", serif' font-weight="bold" font-size="36.04" textLength="26.03" lengthAdjust="spacingAndGlyphs" fill="#000">R</text><text x="1711.17" y="352.40" font-family='"Liberation Serif", serif' font-weight="bold" font-size="24.89" textLength="26.40" lengthAdjust="spacingAndGlyphs" fill="#000">IX</text><text x="1114.80" y="398.93" font-family='"Liberation Serif", serif' font-weight="bold" font-size="37.04" textLength="11.10" lengthAdjust="spacingAndGlyphs" fill="#000">t</text><text x="1333.21" y="393.57" font-family='"Liberation Serif", serif' font-weight="bold" font-size="36.89" textLength="18.69" lengthAdjust="spacingAndGlyphs" fill="#000">μ</text><text x="16.72" y="783.97" font-family='"Liberation Serif", serif' font-weight="bold" font-size="47.58" textLength="56.26" lengthAdjust="spacingAndGlyphs" fill="#000">(c)</text><text x="247.58" y="802.50" font-family='"Liberation Sans", sans-serif' font-weight="normal" font-size="42.32" textLength="481.82" lengthAdjust="spacingAndGlyphs" fill="#000">Random Forest Classifier</text><text x="385.71" y="853.40" font-family='"DejaVu Sans", sans-serif' font-weight="normal" font-size="36.85" textLength="211.28" lengthAdjust="spacingAndGlyphs" fill="#111">ROC curve</text><line x1="149.20" y1="1501.30" x2="836.40" y2="898.30" stroke="#0d0d92" stroke-width="4.3" stroke-dasharray="16.4 8.9"/><clipPath id="clipc"><rect x="149.20" y="868.15" width="687.20" height="633.15"/></clipPath><polyline points="149.20,1024.33 160.20,1024.33 160.20,983.44 187.41,983.44 187.41,898.30 836.40,898.30" fill="none" stroke="#f3821d" stroke-width="4.2" stroke-linejoin="round" clip-path="url(#clipc)"/><rect x="149.20" y="868.15" width="687.20" height="633.15" fill="none" stroke="#3c3c3c" stroke-width="2.3"/><line x1="149.20" y1="1501.30" x2="149.20" y2="1024.33" stroke="#4e3a24" stroke-width="2.3"/><line x1="141.40" y1="1501.30" x2="149.20" y2="1501.30" stroke="#3c3c3c" stroke-width="2"/><line x1="149.20" y1="1501.30" x2="149.20" y2="1509.80" stroke="#3c3c3c" stroke-width="2"/><text x="91.37" y="1509.53" font-family='"DejaVu Sans", sans-serif' font-weight="normal" font-size="24.90" textLength="38.41" lengthAdjust="spacingAndGlyphs" fill="#262626">0.0</text><text x="130.00" y="1535.33" font-family='"DejaVu Sans", sans-serif' font-weight="normal" font-size="24.90" textLength="38.41" lengthAdjust="spacingAndGlyphs" fill="#262626">0.0</text><line x1="141.40" y1="1380.70" x2="149.20" y2="1380.70" stroke="#3c3c3c" stroke-width="2"/><line x1="286.64" y1="1501.30" x2="286.64" y2="1509.80" stroke="#3c3c3c" stroke-width="2"/><text x="92.21" y="1388.93" font-family='"DejaVu Sans", sans-serif' font-weight="normal" font-size="24.90" textLength="38.41" lengthAdjust="spacingAndGlyphs" fill="#262626">0.2</text><text x="267.86" y="1535.33" font-family='"DejaVu Sans", sans-serif' font-weight="normal" font-size="24.90" textLength="38.41" lengthAdjust="spacingAndGlyphs" fill="#262626">0.2</text><line x1="141.40" y1="1260.10" x2="149.20" y2="1260.10" stroke="#3c3c3c" stroke-width="2"/><line x1="424.08" y1="1501.30" x2="424.08" y2="1509.80" stroke="#3c3c3c" stroke-width="2"/><text x="91.13" y="1268.33" font-family='"DejaVu Sans", sans-serif' font-weight="normal" font-size="24.90" textLength="38.41" lengthAdjust="spacingAndGlyphs" fill="#262626">0.4</text><text x="404.76" y="1535.33" font-family='"DejaVu Sans", sans-serif' font-weight="normal" font-size="24.90" textLength="38.41" lengthAdjust="spacingAndGlyphs" fill="#262626">0.4</text><line x1="141.40" y1="1139.50" x2="149.20" y2="1139.50" stroke="#3c3c3c" stroke-width="2"/><line x1="561.52" y1="1501.30" x2="561.52" y2="1509.80" stroke="#3c3c3c" stroke-width="2"/><text x="91.25" y="1147.73" font-family='"DejaVu Sans", sans-serif' font-weight="normal" font-size="24.90" textLength="38.41" lengthAdjust="spacingAndGlyphs" fill="#262626">0.6</text><text x="542.26" y="1535.33" font-family='"DejaVu Sans", sans-serif' font-weight="normal" font-size="24.90" textLength="38.41" lengthAdjust="spacingAndGlyphs" fill="#262626">0.6</text><line x1="141.40" y1="1018.90" x2="149.20" y2="1018.90" stroke="#3c3c3c" stroke-width="2"/><line x1="698.96" y1="1501.30" x2="698.96" y2="1509.80" stroke="#3c3c3c" stroke-width="2"/><text x="91.37" y="1027.13" font-family='"DejaVu Sans", sans-serif' font-weight="normal" font-size="24.90" textLength="38.41" lengthAdjust="spacingAndGlyphs" fill="#262626">0.8</text><text x="679.76" y="1535.33" font-family='"DejaVu Sans", sans-serif' font-weight="normal" font-size="24.90" textLength="38.41" lengthAdjust="spacingAndGlyphs" fill="#262626">0.8</text><line x1="141.40" y1="898.30" x2="149.20" y2="898.30" stroke="#3c3c3c" stroke-width="2"/><line x1="836.40" y1="1501.30" x2="836.40" y2="1509.80" stroke="#3c3c3c" stroke-width="2"/><text x="91.37" y="906.53" font-family='"DejaVu Sans", sans-serif' font-weight="normal" font-size="24.90" textLength="38.41" lengthAdjust="spacingAndGlyphs" fill="#262626">1.0</text><text x="816.65" y="1535.33" font-family='"DejaVu Sans", sans-serif' font-weight="normal" font-size="24.90" textLength="38.41" lengthAdjust="spacingAndGlyphs" fill="#262626">1.0</text><g transform="rotate(-90)"><text x="-1353.21" y="71.10" font-family='"DejaVu Sans", sans-serif' font-weight="normal" font-size="38.49" textLength="331.59" lengthAdjust="spacingAndGlyphs" fill="#111">True Positive Rate</text></g><text x="306.23" y="1576.90" font-family='"DejaVu Sans", sans-serif' font-weight="normal" font-size="37.26" textLength="369.43" lengthAdjust="spacingAndGlyphs" fill="#111">False Positive Rate</text><rect x="432.00" y="1447.80" width="391.70" height="42.20" rx="4.5" fill="#fff" fill-opacity="0.8" stroke="#d9d9d9" stroke-width="1.8"/><line x1="438.70" y1="1465.50" x2="492.80" y2="1465.50" stroke="#f3821d" stroke-width="4"/><text x="509.54" y="1474.90" font-family='"DejaVu Sans", sans-serif' font-weight="normal" font-size="23.97" textLength="303.32" lengthAdjust="spacingAndGlyphs" fill="#262626">ROC curve (area = 0.99)</text><rect x="278.70" y="966.50" width="374.30" height="353.30" fill="#d2e3f2"/><rect x="278.70" y="966.50" width="187.75" height="177.25" fill="#1d356f"/><rect x="465.85" y="966.50" width="187.15" height="177.25" fill="#f5f9fd"/><rect x="278.70" y="1143.15" width="187.75" height="176.65" fill="#e3eef8"/><rect x="465.85" y="1143.15" width="187.15" height="176.65" fill="#d2e3f2"/><rect x="278.70" y="966.50" width="374.30" height="353.30" fill="none" stroke="#333" stroke-width="1.7"/><text x="352.93" y="1057.06" font-family='"DejaVu Sans", sans-serif' font-weight="normal" font-size="29.60" textLength="39.55" lengthAdjust="spacingAndGlyphs" fill="#000">52</text><text x="549.71" y="1056.91" font-family='"DejaVu Sans", sans-serif' font-weight="normal" font-size="29.60" textLength="19.77" lengthAdjust="spacingAndGlyphs" fill="#000">5</text><text x="362.41" y="1233.70" font-family='"DejaVu Sans", sans-serif' font-weight="normal" font-size="29.60" textLength="19.77" lengthAdjust="spacingAndGlyphs" fill="#000">0</text><text x="549.63" y="1233.70" font-family='"DejaVu Sans", sans-serif' font-weight="normal" font-size="29.60" textLength="19.77" lengthAdjust="spacingAndGlyphs" fill="#000">9</text><line x1="272.20" y1="1054.83" x2="278.70" y2="1054.83" stroke="#333" stroke-width="1.6"/><line x1="372.27" y1="1319.80" x2="372.27" y2="1326.30" stroke="#333" stroke-width="1.6"/><text x="247.68" y="1066.59" font-family='"DejaVu Sans", sans-serif' font-weight="normal" font-size="29.70" textLength="20.79" lengthAdjust="spacingAndGlyphs" fill="#111">0</text><text x="361.90" y="1356.18" font-family='"DejaVu Sans", sans-serif' font-weight="normal" font-size="29.70" textLength="20.79" lengthAdjust="spacingAndGlyphs" fill="#111">0</text><line x1="272.20" y1="1231.47" x2="278.70" y2="1231.47" stroke="#333" stroke-width="1.6"/><line x1="559.42" y1="1319.80" x2="559.42" y2="1326.30" stroke="#333" stroke-width="1.6"/><text x="248.49" y="1243.32" font-family='"DejaVu Sans", sans-serif' font-weight="normal" font-size="29.70" textLength="20.79" lengthAdjust="spacingAndGlyphs" fill="#111">1</text><text x="548.73" y="1355.88" font-family='"DejaVu Sans", sans-serif' font-weight="normal" font-size="29.70" textLength="20.79" lengthAdjust="spacingAndGlyphs" fill="#111">1</text><text x="334.70" y="958.10" font-family='"DejaVu Sans", sans-serif' font-weight="normal" font-size="28.08" textLength="260.40" lengthAdjust="spacingAndGlyphs" fill="#111">Confusion Matrix</text><g transform="rotate(-90)"><text x="-1255.64" y="228.50" font-family='"DejaVu Sans", sans-serif' font-weight="normal" font-size="30.82" textLength="218.82" lengthAdjust="spacingAndGlyphs" fill="#111">Predicted label</text></g><text x="374.49" y="1392.10" font-family='"DejaVu Sans", sans-serif' font-weight="normal" font-size="27.12" textLength="182.40" lengthAdjust="spacingAndGlyphs" fill="#111">Actual lable</text><rect x="680.30" y="966.50" width="18.80" height="353.30" fill="url(#cbBlues)" stroke="#222" stroke-width="1.7"/><line x1="699.10" y1="1319.80" x2="705.60" y2="1319.80" stroke="#333" stroke-width="1.6"/><text x="711.55" y="1327.02" font-family='"DejaVu Sans", sans-serif' font-weight="normal" font-size="16.60" textLength="9.29" lengthAdjust="spacingAndGlyphs" fill="#222">0</text><line x1="699.10" y1="1251.86" x2="705.60" y2="1251.86" stroke="#333" stroke-width="1.6"/><text x="710.89" y="1259.08" font-family='"DejaVu Sans", sans-serif' font-weight="normal" font-size="16.60" textLength="18.59" lengthAdjust="spacingAndGlyphs" fill="#222">10</text><line x1="699.10" y1="1183.92" x2="705.60" y2="1183.92" stroke="#333" stroke-width="1.6"/><text x="711.40" y="1191.13" font-family='"DejaVu Sans", sans-serif' font-weight="normal" font-size="16.60" textLength="18.59" lengthAdjust="spacingAndGlyphs" fill="#222">20</text><line x1="699.10" y1="1115.97" x2="705.60" y2="1115.97" stroke="#333" stroke-width="1.6"/><text x="711.40" y="1123.19" font-family='"DejaVu Sans", sans-serif' font-weight="normal" font-size="16.60" textLength="18.59" lengthAdjust="spacingAndGlyphs" fill="#222">30</text><line x1="699.10" y1="1048.03" x2="705.60" y2="1048.03" stroke="#333" stroke-width="1.6"/><text x="711.77" y="1055.25" font-family='"DejaVu Sans", sans-serif' font-weight="normal" font-size="16.60" textLength="18.59" lengthAdjust="spacingAndGlyphs" fill="#222">40</text><line x1="699.10" y1="980.09" x2="705.60" y2="980.09" stroke="#333" stroke-width="1.6"/><text x="711.40" y="987.31" font-family='"DejaVu Sans", sans-serif' font-weight="normal" font-size="16.60" textLength="18.59" lengthAdjust="spacingAndGlyphs" fill="#222">50</text><text x="645.46" y="1416.37" font-family='"Liberation Sans", sans-serif' font-weight="bold" font-size="51.55" textLength="14.27" lengthAdjust="spacingAndGlyphs" fill="#000">(</text><text x="782.59" y="1416.37" font-family='"Liberation Sans", sans-serif' font-weight="bold" font-size="51.55" textLength="14.27" lengthAdjust="spacingAndGlyphs" fill="#000">)</text><text x="662.71" y="1418.30" font-family='"Liberation Sans", sans-serif' font-weight="bold" font-size="51.74" textLength="116.70" lengthAdjust="spacingAndGlyphs" fill="#000">Train</text><text x="881.13" y="792.46" font-family='"Liberation Serif", serif' font-weight="bold" font-size="48.57" textLength="61.71" lengthAdjust="spacingAndGlyphs" fill="#000">(d)</text><text x="1100.88" y="802.90" font-family='"Liberation Sans", sans-serif' font-weight="normal" font-size="42.90" textLength="482.73" lengthAdjust="spacingAndGlyphs" fill="#000">Random Forest Classifier</text><text x="1248.61" y="852.10" font-family='"DejaVu Sans", sans-serif' font-weight="normal" font-size="36.16" textLength="211.28" lengthAdjust="spacingAndGlyphs" fill="#111">ROC curve</text><line x1="1011.90" y1="1500.60" x2="1699.40" y2="897.60" stroke="#0d0d92" stroke-width="4.3" stroke-dasharray="16.4 8.9"/><clipPath id="clipd"><rect x="1011.90" y="867.45" width="687.50" height="633.15"/></clipPath><polyline points="1011.90,897.60 1699.40,897.60" fill="none" stroke="#f3821d" stroke-width="4.2" stroke-linejoin="round" clip-path="url(#clipd)"/><rect x="1011.90" y="867.45" width="687.50" height="633.15" fill="none" stroke="#3c3c3c" stroke-width="2.3"/><line x1="1011.90" y1="1500.60" x2="1011.90" y2="897.60" stroke="#4e3a24" stroke-width="2.3"/><line x1="1004.10" y1="1500.60" x2="1011.90" y2="1500.60" stroke="#3c3c3c" stroke-width="2"/><line x1="1011.90" y1="1500.60" x2="1011.90" y2="1509.10" stroke="#3c3c3c" stroke-width="2"/><text x="954.57" y="1508.83" font-family='"DejaVu Sans", sans-serif' font-weight="normal" font-size="24.90" textLength="38.41" lengthAdjust="spacingAndGlyphs" fill="#262626">0.0</text><text x="992.70" y="1534.23" font-family='"DejaVu Sans", sans-serif' font-weight="normal" font-size="24.90" textLength="38.41" lengthAdjust="spacingAndGlyphs" fill="#262626">0.0</text><line x1="1004.10" y1="1380.00" x2="1011.90" y2="1380.00" stroke="#3c3c3c" stroke-width="2"/><line x1="1149.40" y1="1500.60" x2="1149.40" y2="1509.10" stroke="#3c3c3c" stroke-width="2"/><text x="955.41" y="1388.23" font-family='"DejaVu Sans", sans-serif' font-weight="normal" font-size="24.90" textLength="38.41" lengthAdjust="spacingAndGlyphs" fill="#262626">0.2</text><text x="1130.62" y="1534.23" font-family='"DejaVu Sans", sans-serif' font-weight="normal" font-size="24.90" textLength="38.41" lengthAdjust="spacingAndGlyphs" fill="#262626">0.2</text><line x1="1004.10" y1="1259.40" x2="1011.90" y2="1259.40" stroke="#3c3c3c" stroke-width="2"/><line x1="1286.90" y1="1500.60" x2="1286.90" y2="1509.10" stroke="#3c3c3c" stroke-width="2"/><text x="954.33" y="1267.63" font-family='"DejaVu Sans", sans-serif' font-weight="normal" font-size="24.90" textLength="38.41" lengthAdjust="spacingAndGlyphs" fill="#262626">0.4</text><text x="1267.58" y="1534.23" font-family='"DejaVu Sans", sans-serif' font-weight="normal" font-size="24.90" textLength="38.41" lengthAdjust="spacingAndGlyphs" fill="#262626">0.4</text><line x1="1004.10" y1="1138.80" x2="1011.90" y2="1138.80" stroke="#3c3c3c" stroke-width="2"/><line x1="1424.40" y1="1500.60" x2="1424.40" y2="1509.10" stroke="#3c3c3c" stroke-width="2"/><text x="954.45" y="1147.03" font-family='"DejaVu Sans", sans-serif' font-weight="normal" font-size="24.90" textLength="38.41" lengthAdjust="spacingAndGlyphs" fill="#262626">0.6</text><text x="1405.14" y="1534.23" font-family='"DejaVu Sans", sans-serif' font-weight="normal" font-size="24.90" textLength="38.41" lengthAdjust="spacingAndGlyphs" fill="#262626">0.6</text><line x1="1004.10" y1="1018.20" x2="1011.90" y2="1018.20" stroke="#3c3c3c" stroke-width="2"/><line x1="1561.90" y1="1500.60" x2="1561.90" y2="1509.10" stroke="#3c3c3c" stroke-width="2"/><text x="954.57" y="1026.43" font-family='"DejaVu Sans", sans-serif' font-weight="normal" font-size="24.90" textLength="38.41" lengthAdjust="spacingAndGlyphs" fill="#262626">0.8</text><text x="1542.70" y="1534.23" font-family='"DejaVu Sans", sans-serif' font-weight="normal" font-size="24.90" textLength="38.41" lengthAdjust="spacingAndGlyphs" fill="#262626">0.8</text><line x1="1004.10" y1="897.60" x2="1011.90" y2="897.60" stroke="#3c3c3c" stroke-width="2"/><line x1="1699.40" y1="1500.60" x2="1699.40" y2="1509.10" stroke="#3c3c3c" stroke-width="2"/><text x="954.57" y="905.83" font-family='"DejaVu Sans", sans-serif' font-weight="normal" font-size="24.90" textLength="38.41" lengthAdjust="spacingAndGlyphs" fill="#262626">1.0</text><text x="1679.65" y="1534.23" font-family='"DejaVu Sans", sans-serif' font-weight="normal" font-size="24.90" textLength="38.41" lengthAdjust="spacingAndGlyphs" fill="#262626">1.0</text><g transform="rotate(-90)"><text x="-1352.21" y="934.30" font-family='"DejaVu Sans", sans-serif' font-weight="normal" font-size="41.37" textLength="330.18" lengthAdjust="spacingAndGlyphs" fill="#111">True Positive Rate</text></g><text x="1169.74" y="1574.70" font-family='"DejaVu Sans", sans-serif' font-weight="normal" font-size="35.75" textLength="368.51" lengthAdjust="spacingAndGlyphs" fill="#111">False Positive Rate</text><rect x="1297.90" y="1447.00" width="389.20" height="42.50" rx="4.5" fill="#fff" fill-opacity="0.8" stroke="#d9d9d9" stroke-width="1.8"/><line x1="1303.70" y1="1464.60" x2="1358.80" y2="1464.60" stroke="#f3821d" stroke-width="4"/><text x="1373.83" y="1474.00" font-family='"DejaVu Sans", sans-serif' font-weight="normal" font-size="25.62" textLength="304.54" lengthAdjust="spacingAndGlyphs" fill="#262626">ROC curve (area = 1.00)</text><rect x="1150.30" y="974.50" width="369.70" height="348.50" fill="#e8f1fa"/><rect x="1150.30" y="974.50" width="185.45" height="174.85" fill="#1d356f"/><rect x="1335.15" y="974.50" width="184.85" height="174.85" fill="#f4f8fc"/><rect x="1150.30" y="1148.75" width="185.45" height="174.25" fill="#dfebf6"/><rect x="1335.15" y="1148.75" width="184.85" height="174.25" fill="#e8f1fa"/><rect x="1150.30" y="974.50" width="369.70" height="348.50" fill="none" stroke="#333" stroke-width="1.7"/><text x="1222.68" y="1064.08" font-family='"DejaVu Sans", sans-serif' font-weight="normal" font-size="29.60" textLength="39.55" lengthAdjust="spacingAndGlyphs" fill="#000">24</text><text x="1417.78" y="1063.86" font-family='"DejaVu Sans", sans-serif' font-weight="normal" font-size="29.60" textLength="19.77" lengthAdjust="spacingAndGlyphs" fill="#000">3</text><text x="1232.86" y="1238.11" font-family='"DejaVu Sans", sans-serif' font-weight="normal" font-size="29.60" textLength="19.77" lengthAdjust="spacingAndGlyphs" fill="#000">0</text><text x="1418.10" y="1238.33" font-family='"DejaVu Sans", sans-serif' font-weight="normal" font-size="29.60" textLength="19.77" lengthAdjust="spacingAndGlyphs" fill="#000">2</text><line x1="1143.80" y1="1061.62" x2="1150.30" y2="1061.62" stroke="#333" stroke-width="1.6"/><line x1="1242.72" y1="1323.00" x2="1242.72" y2="1329.50" stroke="#333" stroke-width="1.6"/><text x="1119.28" y="1073.39" font-family='"DejaVu Sans", sans-serif' font-weight="normal" font-size="29.70" textLength="20.79" lengthAdjust="spacingAndGlyphs" fill="#111">0</text><text x="1232.35" y="1359.38" font-family='"DejaVu Sans", sans-serif' font-weight="normal" font-size="29.70" textLength="20.79" lengthAdjust="spacingAndGlyphs" fill="#111">0</text><line x1="1143.80" y1="1235.88" x2="1150.30" y2="1235.88" stroke="#333" stroke-width="1.6"/><line x1="1427.58" y1="1323.00" x2="1427.58" y2="1329.50" stroke="#333" stroke-width="1.6"/><text x="1120.09" y="1247.72" font-family='"DejaVu Sans", sans-serif' font-weight="normal" font-size="29.70" textLength="20.79" lengthAdjust="spacingAndGlyphs" fill="#111">1</text><text x="1416.88" y="1359.08" font-family='"DejaVu Sans", sans-serif' font-weight="normal" font-size="29.70" textLength="20.79" lengthAdjust="spacingAndGlyphs" fill="#111">1</text><text x="1205.32" y="965.30" font-family='"DejaVu Sans", sans-serif' font-weight="normal" font-size="26.16" textLength="258.48" lengthAdjust="spacingAndGlyphs" fill="#111">Confusion Matrix</text><g transform="rotate(-90)"><text x="-1260.01" y="1100.30" font-family='"DejaVu Sans", sans-serif' font-weight="normal" font-size="30.68" textLength="216.25" lengthAdjust="spacingAndGlyphs" fill="#111">Predicted label</text></g><text x="1245.79" y="1396.70" font-family='"DejaVu Sans", sans-serif' font-weight="normal" font-size="28.08" textLength="180.47" lengthAdjust="spacingAndGlyphs" fill="#111">Actual lable</text><rect x="1548.70" y="974.50" width="19.20" height="348.50" fill="url(#cbBlues)" stroke="#222" stroke-width="1.7"/><line x1="1567.90" y1="1323.00" x2="1574.40" y2="1323.00" stroke="#333" stroke-width="1.6"/><text x="1580.35" y="1330.22" font-family='"DejaVu Sans", sans-serif' font-weight="normal" font-size="16.60" textLength="9.29" lengthAdjust="spacingAndGlyphs" fill="#222">0</text><line x1="1567.90" y1="1250.40" x2="1574.40" y2="1250.40" stroke="#333" stroke-width="1.6"/><text x="1580.20" y="1257.53" font-family='"DejaVu Sans", sans-serif' font-weight="normal" font-size="16.60" textLength="9.29" lengthAdjust="spacingAndGlyphs" fill="#222">5</text><line x1="1567.90" y1="1177.79" x2="1574.40" y2="1177.79" stroke="#333" stroke-width="1.6"/><text x="1579.69" y="1185.01" font-family='"DejaVu Sans", sans-serif' font-weight="normal" font-size="16.60" textLength="18.59" lengthAdjust="spacingAndGlyphs" fill="#222">10</text><line x1="1567.90" y1="1105.19" x2="1574.40" y2="1105.19" stroke="#333" stroke-width="1.6"/><text x="1579.69" y="1112.32" font-family='"DejaVu Sans", sans-serif' font-weight="normal" font-size="16.60" textLength="18.59" lengthAdjust="spacingAndGlyphs" fill="#222">15</text><line x1="1567.90" y1="1032.58" x2="1574.40" y2="1032.58" stroke="#333" stroke-width="1.6"/><text x="1580.20" y="1039.80" font-family='"DejaVu Sans", sans-serif' font-weight="normal" font-size="16.60" textLength="18.59" lengthAdjust="spacingAndGlyphs" fill="#222">20</text><text x="1509.36" y="1417.04" font-family='"Liberation Sans", sans-serif' font-weight="bold" font-size="52.19" textLength="14.27" lengthAdjust="spacingAndGlyphs" fill="#000">(</text><text x="1624.59" y="1417.04" font-family='"Liberation Sans", sans-serif' font-weight="bold" font-size="52.19" textLength="14.27" lengthAdjust="spacingAndGlyphs" fill="#000">)</text><text x="1526.62" y="1418.50" font-family='"Liberation Sans", sans-serif' font-weight="bold" font-size="51.74" textLength="94.75" lengthAdjust="spacingAndGlyphs" fill="#000">Test</text><text x="23.92" y="1656.56" font-family='"Liberation Serif", serif' font-weight="bold" font-size="48.57" textLength="56.15" lengthAdjust="spacingAndGlyphs" fill="#000">(e)</text><text x="288.48" y="1706.20" font-family='"Liberation Sans", sans-serif' font-weight="normal" font-size="43.33" textLength="406.78" lengthAdjust="spacingAndGlyphs" fill="#000">Extra Trees Classifier</text><text x="385.80" y="1767.00" font-family='"DejaVu Sans", sans-serif' font-weight="normal" font-size="35.21" textLength="217.05" lengthAdjust="spacingAndGlyphs" fill="#111">ROC curve</text><line x1="143.20" y1="2419.50" x2="848.20" y2="1811.90" stroke="#0d0d92" stroke-width="4.3" stroke-dasharray="16.4 8.9"/><clipPath id="clipe"><rect x="143.20" y="1781.52" width="705.00" height="637.98"/></clipPath><polyline points="143.20,1811.90 848.20,1811.90" fill="none" stroke="#f3821d" stroke-width="4.2" stroke-linejoin="round" clip-path="url(#clipe)"/><rect x="143.20" y="1781.52" width="705.00" height="637.98" fill="none" stroke="#3c3c3c" stroke-width="2.3"/><line x1="143.20" y1="2419.50" x2="143.20" y2="1811.90" stroke="#4e3a24" stroke-width="2.3"/><line x1="135.40" y1="2419.50" x2="143.20" y2="2419.50" stroke="#3c3c3c" stroke-width="2"/><line x1="143.20" y1="2419.50" x2="143.20" y2="2428.00" stroke="#3c3c3c" stroke-width="2"/><text x="82.87" y="2427.73" font-family='"DejaVu Sans", sans-serif' font-weight="normal" font-size="24.90" textLength="38.41" lengthAdjust="spacingAndGlyphs" fill="#262626">0.0</text><text x="124.00" y="2454.93" font-family='"DejaVu Sans", sans-serif' font-weight="normal" font-size="24.90" textLength="38.41" lengthAdjust="spacingAndGlyphs" fill="#262626">0.0</text><line x1="135.40" y1="2297.98" x2="143.20" y2="2297.98" stroke="#3c3c3c" stroke-width="2"/><line x1="284.20" y1="2419.50" x2="284.20" y2="2428.00" stroke="#3c3c3c" stroke-width="2"/><text x="83.71" y="2306.21" font-family='"DejaVu Sans", sans-serif' font-weight="normal" font-size="24.90" textLength="38.41" lengthAdjust="spacingAndGlyphs" fill="#262626">0.2</text><text x="265.42" y="2454.93" font-family='"DejaVu Sans", sans-serif' font-weight="normal" font-size="24.90" textLength="38.41" lengthAdjust="spacingAndGlyphs" fill="#262626">0.2</text><line x1="135.40" y1="2176.46" x2="143.20" y2="2176.46" stroke="#3c3c3c" stroke-width="2"/><line x1="425.20" y1="2419.50" x2="425.20" y2="2428.00" stroke="#3c3c3c" stroke-width="2"/><text x="82.63" y="2184.69" font-family='"DejaVu Sans", sans-serif' font-weight="normal" font-size="24.90" textLength="38.41" lengthAdjust="spacingAndGlyphs" fill="#262626">0.4</text><text x="405.88" y="2454.93" font-family='"DejaVu Sans", sans-serif' font-weight="normal" font-size="24.90" textLength="38.41" lengthAdjust="spacingAndGlyphs" fill="#262626">0.4</text><line x1="135.40" y1="2054.94" x2="143.20" y2="2054.94" stroke="#3c3c3c" stroke-width="2"/><line x1="566.20" y1="2419.50" x2="566.20" y2="2428.00" stroke="#3c3c3c" stroke-width="2"/><text x="82.75" y="2063.17" font-family='"DejaVu Sans", sans-serif' font-weight="normal" font-size="24.90" textLength="38.41" lengthAdjust="spacingAndGlyphs" fill="#262626">0.6</text><text x="546.94" y="2454.93" font-family='"DejaVu Sans", sans-serif' font-weight="normal" font-size="24.90" textLength="38.41" lengthAdjust="spacingAndGlyphs" fill="#262626">0.6</text><line x1="135.40" y1="1933.42" x2="143.20" y2="1933.42" stroke="#3c3c3c" stroke-width="2"/><line x1="707.20" y1="2419.50" x2="707.20" y2="2428.00" stroke="#3c3c3c" stroke-width="2"/><text x="82.87" y="1941.65" font-family='"DejaVu Sans", sans-serif' font-weight="normal" font-size="24.90" textLength="38.41" lengthAdjust="spacingAndGlyphs" fill="#262626">0.8</text><text x="688.00" y="2454.93" font-family='"DejaVu Sans", sans-serif' font-weight="normal" font-size="24.90" textLength="38.41" lengthAdjust="spacingAndGlyphs" fill="#262626">0.8</text><line x1="135.40" y1="1811.90" x2="143.20" y2="1811.90" stroke="#3c3c3c" stroke-width="2"/><line x1="848.20" y1="2419.50" x2="848.20" y2="2428.00" stroke="#3c3c3c" stroke-width="2"/><text x="82.87" y="1820.13" font-family='"DejaVu Sans", sans-serif' font-weight="normal" font-size="24.90" textLength="38.41" lengthAdjust="spacingAndGlyphs" fill="#262626">1.0</text><text x="828.45" y="2454.93" font-family='"DejaVu Sans", sans-serif' font-weight="normal" font-size="24.90" textLength="38.41" lengthAdjust="spacingAndGlyphs" fill="#262626">1.0</text><g transform="rotate(-90)"><text x="-2270.91" y="63.10" font-family='"DejaVu Sans", sans-serif' font-weight="normal" font-size="41.92" textLength="334.70" lengthAdjust="spacingAndGlyphs" fill="#111">True Positive Rate</text></g><text x="304.53" y="2495.20" font-family='"DejaVu Sans", sans-serif' font-weight="normal" font-size="35.21" textLength="378.38" lengthAdjust="spacingAndGlyphs" fill="#111">False Positive Rate</text><rect x="436.00" y="2366.70" width="399.80" height="41.50" rx="4.5" fill="#fff" fill-opacity="0.8" stroke="#d9d9d9" stroke-width="1.8"/><line x1="442.70" y1="2383.60" x2="498.50" y2="2383.60" stroke="#f3821d" stroke-width="4"/><text x="514.37" y="2392.70" font-family='"DejaVu Sans", sans-serif' font-weight="normal" font-size="24.11" textLength="312.45" lengthAdjust="spacingAndGlyphs" fill="#262626">ROC curve (area = 1.00)</text><rect x="281.80" y="1885.20" width="393.80" height="365.00" fill="#c5dbee"/><rect x="281.80" y="1885.20" width="197.50" height="183.10" fill="#1d356f"/><rect x="478.70" y="1885.20" width="196.90" height="183.10" fill="#f5f9fd"/><rect x="281.80" y="2067.70" width="197.50" height="182.50" fill="#f5f9fd"/><rect x="478.70" y="2067.70" width="196.90" height="182.50" fill="#c5dbee"/><rect x="281.80" y="1885.20" width="393.80" height="365.00" fill="none" stroke="#333" stroke-width="1.7"/><text x="360.90" y="1978.68" font-family='"DejaVu Sans", sans-serif' font-weight="normal" font-size="29.60" textLength="39.55" lengthAdjust="spacingAndGlyphs" fill="#000">52</text><text x="567.28" y="1978.68" font-family='"DejaVu Sans", sans-serif' font-weight="normal" font-size="29.60" textLength="19.77" lengthAdjust="spacingAndGlyphs" fill="#000">0</text><text x="370.38" y="2161.18" font-family='"DejaVu Sans", sans-serif' font-weight="normal" font-size="29.60" textLength="19.77" lengthAdjust="spacingAndGlyphs" fill="#000">0</text><text x="556.56" y="2161.25" font-family='"DejaVu Sans", sans-serif' font-weight="normal" font-size="29.60" textLength="39.55" lengthAdjust="spacingAndGlyphs" fill="#000">14</text><line x1="275.30" y1="1976.45" x2="281.80" y2="1976.45" stroke="#333" stroke-width="1.6"/><line x1="380.25" y1="2250.20" x2="380.25" y2="2256.70" stroke="#333" stroke-width="1.6"/><text x="250.78" y="1988.22" font-family='"DejaVu Sans", sans-serif' font-weight="normal" font-size="29.70" textLength="20.79" lengthAdjust="spacingAndGlyphs" fill="#111">0</text><text x="369.88" y="2286.58" font-family='"DejaVu Sans", sans-serif' font-weight="normal" font-size="29.70" textLength="20.79" lengthAdjust="spacingAndGlyphs" fill="#111">0</text><line x1="275.30" y1="2158.95" x2="281.80" y2="2158.95" stroke="#333" stroke-width="1.6"/><line x1="577.15" y1="2250.20" x2="577.15" y2="2256.70" stroke="#333" stroke-width="1.6"/><text x="251.59" y="2170.79" font-family='"DejaVu Sans", sans-serif' font-weight="normal" font-size="29.70" textLength="20.79" lengthAdjust="spacingAndGlyphs" fill="#111">1</text><text x="566.45" y="2286.28" font-family='"DejaVu Sans", sans-serif' font-weight="normal" font-size="29.70" textLength="20.79" lengthAdjust="spacingAndGlyphs" fill="#111">1</text><text x="340.61" y="1876.00" font-family='"DejaVu Sans", sans-serif' font-weight="normal" font-size="26.85" textLength="274.55" lengthAdjust="spacingAndGlyphs" fill="#111">Confusion Matrix</text><g transform="rotate(-90)"><text x="-2183.85" y="229.40" font-family='"DejaVu Sans", sans-serif' font-weight="normal" font-size="32.88" textLength="226.72" lengthAdjust="spacingAndGlyphs" fill="#111">Predicted label</text></g><text x="382.87" y="2325.50" font-family='"DejaVu Sans", sans-serif' font-weight="normal" font-size="30.14" textLength="192.00" lengthAdjust="spacingAndGlyphs" fill="#111">Actual lable</text><rect x="704.00" y="1885.20" width="20.00" height="365.00" fill="url(#cbBlues)" stroke="#222" stroke-width="1.7"/><line x1="724.00" y1="2250.20" x2="730.50" y2="2250.20" stroke="#333" stroke-width="1.6"/><text x="736.45" y="2257.42" font-family='"DejaVu Sans", sans-serif' font-weight="normal" font-size="16.60" textLength="9.29" lengthAdjust="spacingAndGlyphs" fill="#222">0</text><line x1="724.00" y1="2180.01" x2="730.50" y2="2180.01" stroke="#333" stroke-width="1.6"/><text x="735.79" y="2187.23" font-family='"DejaVu Sans", sans-serif' font-weight="normal" font-size="16.60" textLength="18.59" lengthAdjust="spacingAndGlyphs" fill="#222">10</text><line x1="724.00" y1="2109.82" x2="730.50" y2="2109.82" stroke="#333" stroke-width="1.6"/><text x="736.30" y="2117.03" font-family='"DejaVu Sans", sans-serif' font-weight="normal" font-size="16.60" textLength="18.59" lengthAdjust="spacingAndGlyphs" fill="#222">20</text><line x1="724.00" y1="2039.62" x2="730.50" y2="2039.62" stroke="#333" stroke-width="1.6"/><text x="736.30" y="2046.84" font-family='"DejaVu Sans", sans-serif' font-weight="normal" font-size="16.60" textLength="18.59" lengthAdjust="spacingAndGlyphs" fill="#222">30</text><line x1="724.00" y1="1969.43" x2="730.50" y2="1969.43" stroke="#333" stroke-width="1.6"/><text x="736.67" y="1976.65" font-family='"DejaVu Sans", sans-serif' font-weight="normal" font-size="16.60" textLength="18.59" lengthAdjust="spacingAndGlyphs" fill="#222">40</text><line x1="724.00" y1="1899.24" x2="730.50" y2="1899.24" stroke="#333" stroke-width="1.6"/><text x="736.30" y="1906.46" font-family='"DejaVu Sans", sans-serif' font-weight="normal" font-size="16.60" textLength="18.59" lengthAdjust="spacingAndGlyphs" fill="#222">50</text><text x="639.66" y="2345.74" font-family='"Liberation Sans", sans-serif' font-weight="bold" font-size="52.19" textLength="14.27" lengthAdjust="spacingAndGlyphs" fill="#000">(</text><text x="778.79" y="2345.74" font-family='"Liberation Sans", sans-serif' font-weight="bold" font-size="52.19" textLength="14.27" lengthAdjust="spacingAndGlyphs" fill="#000">)</text><text x="656.90" y="2347.20" font-family='"Liberation Sans", sans-serif' font-weight="bold" font-size="51.74" textLength="118.76" lengthAdjust="spacingAndGlyphs" fill="#000">Train</text><text x="897.65" y="1663.47" font-family='"Liberation Serif", serif' font-weight="bold" font-size="48.04" textLength="49.96" lengthAdjust="spacingAndGlyphs" fill="#000">(f)</text><text x="1167.58" y="1709.00" font-family='"Liberation Sans", sans-serif' font-weight="normal" font-size="44.64" textLength="406.28" lengthAdjust="spacingAndGlyphs" fill="#000">Extra Trees Classifier</text><text x="1262.33" y="1766.50" font-family='"DejaVu Sans", sans-serif' font-weight="normal" font-size="34.52" textLength="210.66" lengthAdjust="spacingAndGlyphs" fill="#111">ROC curve</text><line x1="1025.20" y1="2414.80" x2="1712.10" y2="1811.80" stroke="#0d0d92" stroke-width="4.3" stroke-dasharray="16.4 8.9"/><clipPath id="clipf"><rect x="1025.20" y="1781.65" width="686.90" height="633.15"/></clipPath><polyline points="1025.20,1811.80 1712.10,1811.80" fill="none" stroke="#f3821d" stroke-width="4.2" stroke-linejoin="round" clip-path="url(#clipf)"/><rect x="1025.20" y="1781.65" width="686.90" height="633.15" fill="none" stroke="#3c3c3c" stroke-width="2.3"/><line x1="1025.20" y1="2414.80" x2="1025.20" y2="1811.80" stroke="#4e3a24" stroke-width="2.3"/><line x1="1017.40" y1="2414.80" x2="1025.20" y2="2414.80" stroke="#3c3c3c" stroke-width="2"/><line x1="1025.20" y1="2414.80" x2="1025.20" y2="2423.30" stroke="#3c3c3c" stroke-width="2"/><text x="968.37" y="2423.03" font-family='"DejaVu Sans", sans-serif' font-weight="normal" font-size="24.90" textLength="38.41" lengthAdjust="spacingAndGlyphs" fill="#262626">0.0</text><text x="1006.00" y="2448.23" font-family='"DejaVu Sans", sans-serif' font-weight="normal" font-size="24.90" textLength="38.41" lengthAdjust="spacingAndGlyphs" fill="#262626">0.0</text><line x1="1017.40" y1="2294.20" x2="1025.20" y2="2294.20" stroke="#3c3c3c" stroke-width="2"/><line x1="1162.58" y1="2414.80" x2="1162.58" y2="2423.30" stroke="#3c3c3c" stroke-width="2"/><text x="969.21" y="2302.43" font-family='"DejaVu Sans", sans-serif' font-weight="normal" font-size="24.90" textLength="38.41" lengthAdjust="spacingAndGlyphs" fill="#262626">0.2</text><text x="1143.80" y="2448.23" font-family='"DejaVu Sans", sans-serif' font-weight="normal" font-size="24.90" textLength="38.41" lengthAdjust="spacingAndGlyphs" fill="#262626">0.2</text><line x1="1017.40" y1="2173.60" x2="1025.20" y2="2173.60" stroke="#3c3c3c" stroke-width="2"/><line x1="1299.96" y1="2414.80" x2="1299.96" y2="2423.30" stroke="#3c3c3c" stroke-width="2"/><text x="968.13" y="2181.83" font-family='"DejaVu Sans", sans-serif' font-weight="normal" font-size="24.90" textLength="38.41" lengthAdjust="spacingAndGlyphs" fill="#262626">0.4</text><text x="1280.64" y="2448.23" font-family='"DejaVu Sans", sans-serif' font-weight="normal" font-size="24.90" textLength="38.41" lengthAdjust="spacingAndGlyphs" fill="#262626">0.4</text><line x1="1017.40" y1="2053.00" x2="1025.20" y2="2053.00" stroke="#3c3c3c" stroke-width="2"/><line x1="1437.34" y1="2414.80" x2="1437.34" y2="2423.30" stroke="#3c3c3c" stroke-width="2"/><text x="968.25" y="2061.23" font-family='"DejaVu Sans", sans-serif' font-weight="normal" font-size="24.90" textLength="38.41" lengthAdjust="spacingAndGlyphs" fill="#262626">0.6</text><text x="1418.08" y="2448.23" font-family='"DejaVu Sans", sans-serif' font-weight="normal" font-size="24.90" textLength="38.41" lengthAdjust="spacingAndGlyphs" fill="#262626">0.6</text><line x1="1017.40" y1="1932.40" x2="1025.20" y2="1932.40" stroke="#3c3c3c" stroke-width="2"/><line x1="1574.72" y1="2414.80" x2="1574.72" y2="2423.30" stroke="#3c3c3c" stroke-width="2"/><text x="968.37" y="1940.63" font-family='"DejaVu Sans", sans-serif' font-weight="normal" font-size="24.90" textLength="38.41" lengthAdjust="spacingAndGlyphs" fill="#262626">0.8</text><text x="1555.52" y="2448.23" font-family='"DejaVu Sans", sans-serif' font-weight="normal" font-size="24.90" textLength="38.41" lengthAdjust="spacingAndGlyphs" fill="#262626">0.8</text><line x1="1017.40" y1="1811.80" x2="1025.20" y2="1811.80" stroke="#3c3c3c" stroke-width="2"/><line x1="1712.10" y1="2414.80" x2="1712.10" y2="2423.30" stroke="#3c3c3c" stroke-width="2"/><text x="968.37" y="1820.03" font-family='"DejaVu Sans", sans-serif' font-weight="normal" font-size="24.90" textLength="38.41" lengthAdjust="spacingAndGlyphs" fill="#262626">1.0</text><text x="1692.35" y="2448.23" font-family='"DejaVu Sans", sans-serif' font-weight="normal" font-size="24.90" textLength="38.41" lengthAdjust="spacingAndGlyphs" fill="#262626">1.0</text><g transform="rotate(-90)"><text x="-2267.01" y="948.00" font-family='"DejaVu Sans", sans-serif' font-weight="normal" font-size="41.10" textLength="332.59" lengthAdjust="spacingAndGlyphs" fill="#111">True Positive Rate</text></g><text x="1182.73" y="2489.00" font-family='"DejaVu Sans", sans-serif' font-weight="normal" font-size="35.21" textLength="369.12" lengthAdjust="spacingAndGlyphs" fill="#111">False Positive Rate</text><rect x="1310.90" y="2360.40" width="390.10" height="41.50" rx="4.5" fill="#fff" fill-opacity="0.8" stroke="#d9d9d9" stroke-width="1.8"/><line x1="1317.20" y1="2378.80" x2="1372.30" y2="2378.80" stroke="#f3821d" stroke-width="4"/><text x="1387.03" y="2388.00" font-family='"DejaVu Sans", sans-serif' font-weight="normal" font-size="24.25" textLength="304.33" lengthAdjust="spacingAndGlyphs" fill="#262626">ROC curve (area = 1.00)</text><rect x="1162.50" y="1897.90" width="378.60" height="357.10" fill="#d0e2f2"/><rect x="1162.50" y="1897.90" width="189.90" height="179.15" fill="#1d356f"/><rect x="1351.80" y="1897.90" width="189.30" height="179.15" fill="#f5f9fd"/><rect x="1162.50" y="2076.45" width="189.90" height="178.55" fill="#f5f9fd"/><rect x="1351.80" y="2076.45" width="189.30" height="178.55" fill="#d0e2f2"/><rect x="1162.50" y="1897.90" width="378.60" height="357.10" fill="none" stroke="#333" stroke-width="1.7"/><text x="1237.10" y="1989.63" font-family='"DejaVu Sans", sans-serif' font-weight="normal" font-size="29.60" textLength="39.55" lengthAdjust="spacingAndGlyphs" fill="#000">24</text><text x="1436.58" y="1989.41" font-family='"DejaVu Sans", sans-serif' font-weight="normal" font-size="29.60" textLength="19.77" lengthAdjust="spacingAndGlyphs" fill="#000">0</text><text x="1247.28" y="2167.95" font-family='"DejaVu Sans", sans-serif' font-weight="normal" font-size="29.60" textLength="19.77" lengthAdjust="spacingAndGlyphs" fill="#000">0</text><text x="1436.74" y="2167.81" font-family='"DejaVu Sans", sans-serif' font-weight="normal" font-size="29.60" textLength="19.77" lengthAdjust="spacingAndGlyphs" fill="#000">5</text><line x1="1156.00" y1="1987.18" x2="1162.50" y2="1987.18" stroke="#333" stroke-width="1.6"/><line x1="1257.15" y1="2255.00" x2="1257.15" y2="2261.50" stroke="#333" stroke-width="1.6"/><text x="1131.48" y="1998.94" font-family='"DejaVu Sans", sans-serif' font-weight="normal" font-size="29.70" textLength="20.79" lengthAdjust="spacingAndGlyphs" fill="#111">0</text><text x="1246.78" y="2291.38" font-family='"DejaVu Sans", sans-serif' font-weight="normal" font-size="29.70" textLength="20.79" lengthAdjust="spacingAndGlyphs" fill="#111">0</text><line x1="1156.00" y1="2165.72" x2="1162.50" y2="2165.72" stroke="#333" stroke-width="1.6"/><line x1="1446.45" y1="2255.00" x2="1446.45" y2="2261.50" stroke="#333" stroke-width="1.6"/><text x="1132.29" y="2177.57" font-family='"DejaVu Sans", sans-serif' font-weight="normal" font-size="29.70" textLength="20.79" lengthAdjust="spacingAndGlyphs" fill="#111">1</text><text x="1435.75" y="2291.08" font-family='"DejaVu Sans", sans-serif' font-weight="normal" font-size="29.70" textLength="20.79" lengthAdjust="spacingAndGlyphs" fill="#111">1</text><text x="1218.99" y="1888.40" font-family='"DejaVu Sans", sans-serif' font-weight="normal" font-size="26.85" textLength="263.13" lengthAdjust="spacingAndGlyphs" fill="#111">Confusion Matrix</text><g transform="rotate(-90)"><text x="-2190.30" y="1111.80" font-family='"DejaVu Sans", sans-serif' font-weight="normal" font-size="31.51" textLength="223.13" lengthAdjust="spacingAndGlyphs" fill="#111">Predicted label</text></g><text x="1259.89" y="2328.50" font-family='"DejaVu Sans", sans-serif' font-weight="normal" font-size="28.22" textLength="183.81" lengthAdjust="spacingAndGlyphs" fill="#111">Actual lable</text><rect x="1568.90" y="1897.90" width="19.00" height="357.10" fill="url(#cbBlues)" stroke="#222" stroke-width="1.7"/><line x1="1587.90" y1="2255.00" x2="1594.40" y2="2255.00" stroke="#333" stroke-width="1.6"/><text x="1600.35" y="2262.22" font-family='"DejaVu Sans", sans-serif' font-weight="normal" font-size="16.60" textLength="9.29" lengthAdjust="spacingAndGlyphs" fill="#222">0</text><line x1="1587.90" y1="2180.60" x2="1594.40" y2="2180.60" stroke="#333" stroke-width="1.6"/><text x="1600.20" y="2187.74" font-family='"DejaVu Sans", sans-serif' font-weight="normal" font-size="16.60" textLength="9.29" lengthAdjust="spacingAndGlyphs" fill="#222">5</text><line x1="1587.90" y1="2106.21" x2="1594.40" y2="2106.21" stroke="#333" stroke-width="1.6"/><text x="1599.69" y="2113.43" font-family='"DejaVu Sans", sans-serif' font-weight="normal" font-size="16.60" textLength="18.59" lengthAdjust="spacingAndGlyphs" fill="#222">10</text><line x1="1587.90" y1="2031.81" x2="1594.40" y2="2031.81" stroke="#333" stroke-width="1.6"/><text x="1599.69" y="2038.95" font-family='"DejaVu Sans", sans-serif' font-weight="normal" font-size="16.60" textLength="18.59" lengthAdjust="spacingAndGlyphs" fill="#222">15</text><line x1="1587.90" y1="1957.42" x2="1594.40" y2="1957.42" stroke="#333" stroke-width="1.6"/><text x="1600.20" y="1964.63" font-family='"DejaVu Sans", sans-serif' font-weight="normal" font-size="16.60" textLength="18.59" lengthAdjust="spacingAndGlyphs" fill="#222">20</text><text x="1524.46" y="2342.36" font-family='"Liberation Sans", sans-serif' font-weight="bold" font-size="51.12" textLength="14.27" lengthAdjust="spacingAndGlyphs" fill="#000">(</text><text x="1639.29" y="2342.36" font-family='"Liberation Sans", sans-serif' font-weight="bold" font-size="51.12" textLength="14.27" lengthAdjust="spacingAndGlyphs" fill="#000">)</text><text x="1541.72" y="2344.60" font-family='"Liberation Sans", sans-serif' font-weight="bold" font-size="51.74" textLength="94.35" lengthAdjust="spacingAndGlyphs" fill="#000">Test</text>
</svg></body></html>
